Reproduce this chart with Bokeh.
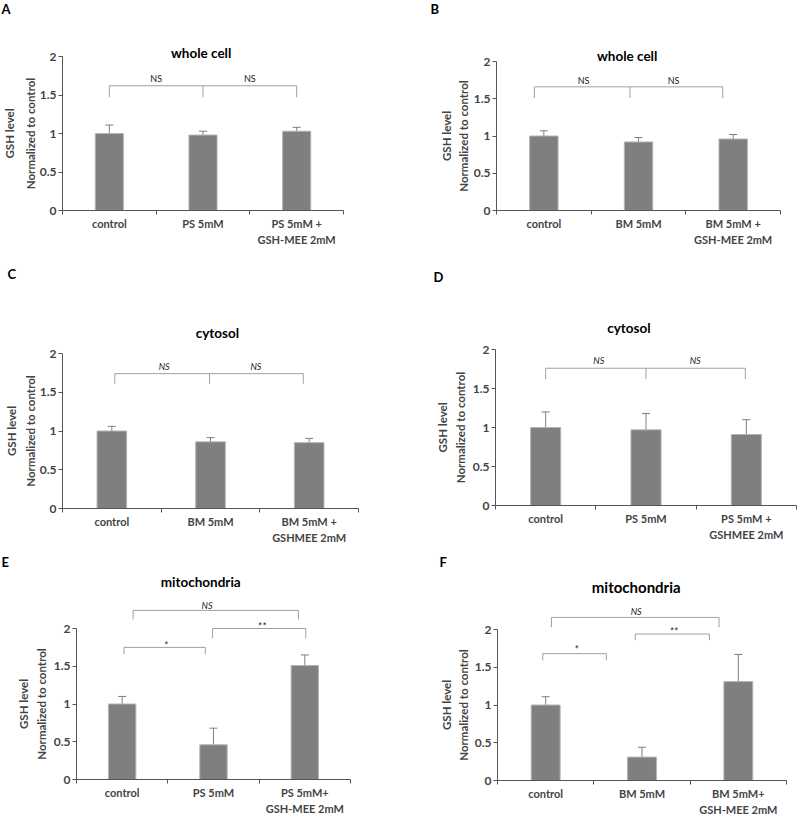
from bokeh.plotting import figure
from bokeh.models import (ColumnDataSource, Whisker, TeeHead, FixedTicker,
                          CustomJSTickFormatter, Label, Range1d)
from bokeh.layouts import row, column
from bokeh.core.properties import value
from bokeh.embed import file_html
from bokeh.resources import INLINE

FONT = "Lato"

# ---------------- data ----------------
y_ticks = [0, 0.5, 1, 1.5, 2]

cats_A = ["control", "PS 5mM", "PS 5mM +\nGSH-MEE 2mM"]
mean_A = [1.00, 0.98, 1.03]
err_A = [0.11, 0.05, 0.05]

cats_B = ["control", "BM 5mM", "BM 5mM +\nGSH-MEE 2mM"]
mean_B = [1.00, 0.92, 0.96]
err_B = [0.07, 0.06, 0.06]

cats_C = ["control", "BM 5mM", "BM 5mM +\nGSHMEE 2mM"]
mean_C = [1.00, 0.86, 0.85]
err_C = [0.06, 0.055, 0.055]

cats_D = ["control", "PS 5mM", "PS 5mM +\nGSHMEE 2mM"]
mean_D = [1.00, 0.97, 0.91]
err_D = [0.20, 0.21, 0.19]

cats_E = ["control", "PS 5mM", "PS 5mM+\nGSH-MEE 2mM"]
mean_E = [1.00, 0.46, 1.51]
err_E = [0.10, 0.22, 0.14]

cats_F = ["control", "BM 5mM", "BM 5mM+\nGSH-MEE 2mM"]
mean_F = [1.00, 0.31, 1.31]
err_F = [0.11, 0.13, 0.36]

# significance brackets: (x positions of the drops, top of bracket, bottom of drops)
brk_A = [([0.5, 1.5, 2.5], 1.62, 1.47)]
brk_B = [([0.40, 1.41, 2.39], 1.66, 1.51)]
brk_C = [([0.53, 1.49, 2.44], 1.74, 1.61)]
brk_D = [([0.50, 1.50, 2.49], 1.76, 1.62)]
brk_E = [([0.62, 2.43], 2.24, 2.12), ([0.52, 1.41], 1.75, 1.66), ([1.49, 2.51], 2.00, 1.87)]
brk_F = [([0.56, 2.30], 2.16, 2.03), ([0.47, 1.13], 1.68, 1.59), ([1.43, 2.20], 1.94, 1.86)]

# significance marks: (text, x, y)
sig_A = [("NS", 1.0, 1.71), ("NS", 2.0, 1.71)]
sig_B = [("NS", 0.92, 1.75), ("NS", 1.87, 1.75)]
sig_C = [("NS", 1.03, 1.83), ("NS", 1.96, 1.83)]
sig_D = [("NS", 1.03, 1.86), ("NS", 1.99, 1.86)]
sig_E = [("NS", 1.43, 2.31), ("*", 0.98, 1.78), ("**", 2.03, 2.03)]
sig_F = [("NS", 1.44, 2.24), ("*", 0.82, 1.74), ("**", 1.83, 1.98)]

# ---------------- layout / style ----------------
BAR_FILL = "#7f7f7f"
BAR_LINE = "#b4b4b4"
BRK_COLOR = "#a0a0a0"
AXIS_COLOR = "#555555"

# geometry in page pixels: figure origin/size, axis origin, pixels per category / per unit
LAYOUT = {
    "A": dict(ox=0, oy=0, w=393, h=262, ax=62, ppc=93.67, y0=210, ppu=77.0,
              tx=1.48, ty=2.04, ts="13.5px", lpx=1, lpy=8.5, italic=False, ylh=1.6, yls=0),
    "B": dict(ox=393, oy=0, w=404, h=262, ax=496, ppc=94.67, y0=210, ppu=74.5,
              tx=1.38, ty=2.07, ts="13.5px", lpx=430, lpy=8.5, italic=False, ylh=1.3, yls=1),
    "C": dict(ox=0, oy=262, w=393, h=286, ax=62, ppc=98.67, y0=508, ppu=77.5,
              tx=1.57, ty=2.27, ts="13.5px", lpx=7, lpy=273, italic=True, ylh=1.45, yls=0),
    "D": dict(ox=393, oy=262, w=404, h=286, ax=495, ppc=100.33, y0=505, ppu=78.0,
              tx=1.33, ty=2.27, ts="13.5px", lpx=433, lpy=276, italic=True, ylh=1.4, yls=3),
    "E": dict(ox=0, oy=548, w=393, h=267, ax=76, ppc=91.33, y0=779, ppu=75.5,
              tx=1.36, ty=2.61, ts="13.5px", lpx=1, lpy=561, italic=True, ylh=1.4, yls=3),
    "F": dict(ox=393, oy=548, w=404, h=267, ax=497, ppc=96.33, y0=780, ppu=75.5,
              tx=1.44, ty=2.56, ts="15px", lpx=439, lpy=561, italic=True, ylh=1.3, yls=2),
}


def make_panel(letter, title, cats, means, errs, brackets, sigs):
    L = LAYOUT[letter]
    x0 = (L["ox"] - L["ax"]) / L["ppc"]
    x1 = (L["ox"] + L["w"] - L["ax"]) / L["ppc"]
    y_lo = (L["y0"] - (L["oy"] + L["h"])) / L["ppu"]
    y_hi = (L["y0"] - L["oy"]) / L["ppu"]
    p = figure(width=L["w"], height=L["h"], x_range=Range1d(x0, x1), y_range=Range1d(y_lo, y_hi),
               output_backend="svg", toolbar_location=None, title=None,
               min_border_left=0, min_border_right=0, min_border_top=0, min_border_bottom=0)
    p.outline_line_color = None
    p.grid.visible = False
    p.background_fill_color = "white"
    p.border_fill_color = "white"

    xs = [i + 0.5 for i in range(len(cats))]
    src = ColumnDataSource(dict(x=xs, top=means, upper=[m + e for m, e in zip(means, errs)]))
    p.vbar(x="x", top="top", width=0.3, source=src, fill_color=BAR_FILL,
           line_color=BAR_LINE, line_width=1)
    p.add_layout(Whisker(source=src, base="x", lower="top", upper="upper", dimension="height",
                         line_color=BAR_FILL, line_width=1,
                         upper_head=TeeHead(size=8, line_color=BAR_FILL, line_width=1),
                         lower_head=None))

    # brackets
    bx, by = [], []
    for drops, top, bot in brackets:
        bx.append([min(drops), max(drops)])
        by.append([top, top])
        for d in drops:
            bx.append([d, d])
            by.append([top, bot])
    p.multi_line(bx, by, line_color=BRK_COLOR, line_width=1)

    ns_src = ColumnDataSource(dict(x=[s[1] for s in sigs], y=[s[2] for s in sigs],
                                   t=[s[0] for s in sigs],
                                   fs=["11px" if s[0].startswith("*") else "9px" for s in sigs]))
    p.text(x="x", y="y", text="t", source=ns_src, text_font=value(FONT),
           text_font_size="fs", text_align="center", text_baseline="middle",
           text_font_style="italic" if L["italic"] else "normal", text_color="#1a1a1a")

    p.add_layout(Label(x=L["tx"], y=L["ty"], text=title, text_font=FONT, text_font_style="bold",
                       text_font_size=L["ts"], text_align="center", text_baseline="middle",
                       text_color="black"))
    # panel letter, placed from its page position through the same scales
    lx = (L["lpx"] - L["ax"]) / L["ppc"]
    ly = (L["y0"] - L["lpy"]) / L["ppu"]
    p.add_layout(Label(x=lx, y=ly, text=letter, text_font=FONT, text_font_style="bold",
                       text_font_size="13px", text_align="left", text_baseline="middle",
                       text_color="black"))

    yax = p.yaxis[0]
    yax.fixed_location = 0
    yax.ticker = FixedTicker(ticks=y_ticks)
    yax.bounds = (0, 2)
    yax.formatter = CustomJSTickFormatter(code="return String(tick)")
    yax.axis_label = "GSH level\nNormalized to control"
    yax.axis_label_text_font = FONT
    yax.axis_label_text_font_style = "bold"
    yax.axis_label_text_font_size = "11.5px"
    yax.axis_label_text_line_height = L["ylh"]
    yax.axis_label_standoff = L["yls"]
    yax.major_label_text_font = FONT
    yax.major_label_text_font_style = "bold"
    yax.major_label_text_font_size = "12px"
    yax.major_label_standoff = 2
    yax.major_tick_out = 4
    yax.major_tick_in = 0
    yax.minor_tick_out = 0
    yax.minor_tick_in = 0
    yax.axis_line_color = AXIS_COLOR
    yax.major_tick_line_color = AXIS_COLOR

    xax = p.xaxis[0]
    xax.fixed_location = 0
    xax.bounds = (0, 3)
    xax.ticker = FixedTicker(ticks=xs, minor_ticks=[0, 1, 2, 3])
    xax.major_label_overrides = {x: c for x, c in zip(xs, cats)}
    xax.major_label_text_font = FONT
    xax.major_label_text_font_style = "bold"
    xax.major_label_text_font_size = "11px"
    xax.major_label_text_line_height = 1.3
    xax.major_label_standoff = 2
    xax.major_tick_out = 0
    xax.major_tick_in = 0
    xax.minor_tick_out = 4
    xax.minor_tick_in = 0
    xax.axis_line_color = AXIS_COLOR
    xax.minor_tick_line_color = AXIS_COLOR
    return p


pA = make_panel("A", "whole cell", cats_A, mean_A, err_A, brk_A, sig_A)
pB = make_panel("B", "whole cell", cats_B, mean_B, err_B, brk_B, sig_B)
pC = make_panel("C", "cytosol", cats_C, mean_C, err_C, brk_C, sig_C)
pD = make_panel("D", "cytosol", cats_D, mean_D, err_D, brk_D, sig_D)
pE = make_panel("E", "mitochondria", cats_E, mean_E, err_E, brk_E, sig_E)
pF = make_panel("F", "mitochondria", cats_F, mean_F, err_F, brk_F, sig_F)

layout = column(row(pA, pB), row(pC, pD), row(pE, pF))

with open("out.html", "w") as f:
    f.write(file_html(layout, INLINE))
